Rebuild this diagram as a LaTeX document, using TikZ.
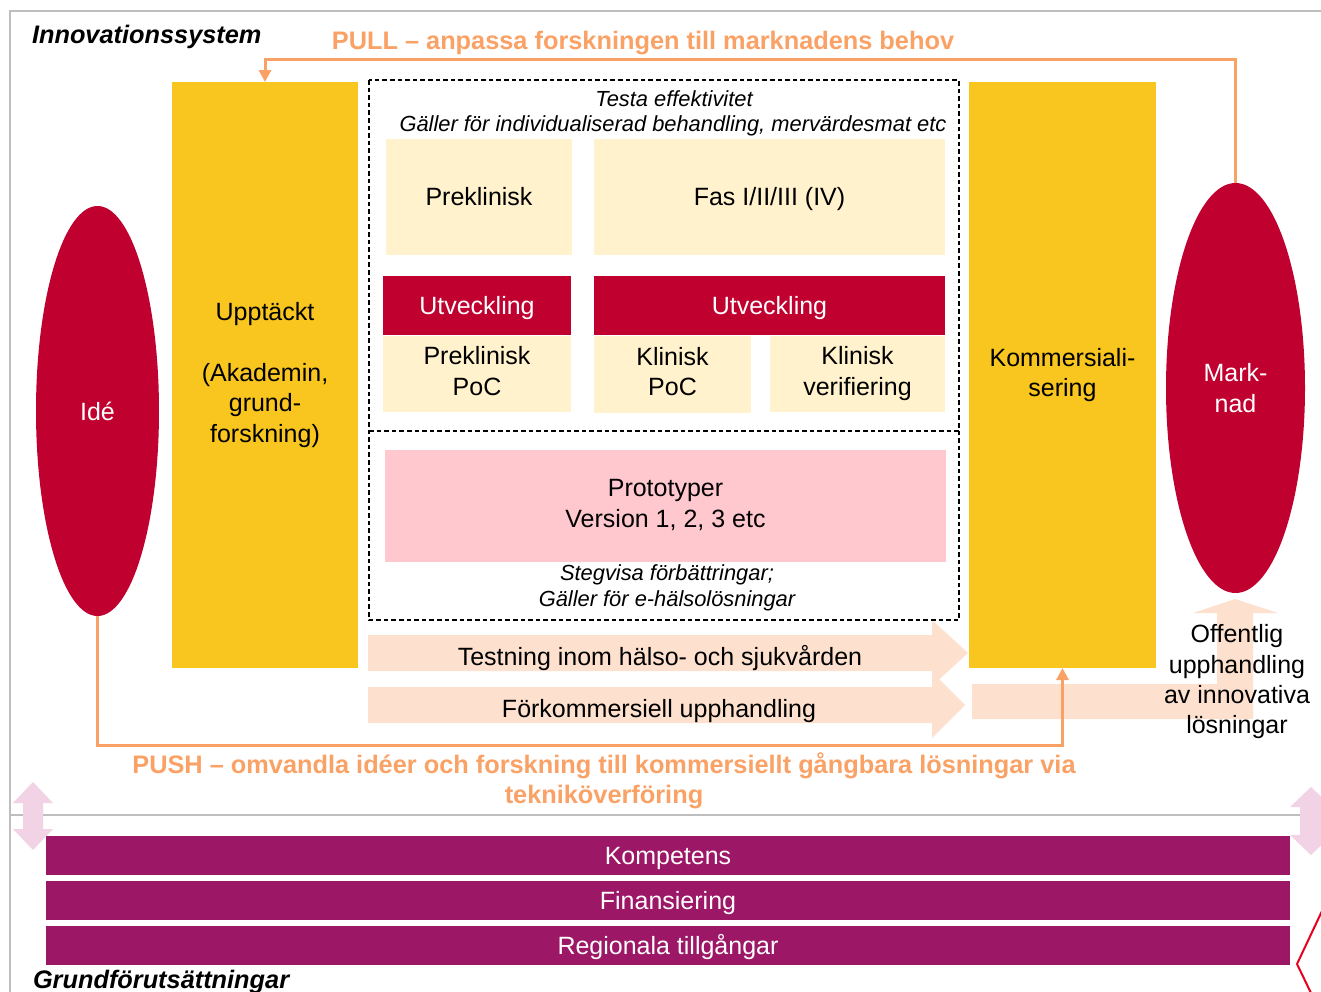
\documentclass[tikz,border=0pt]{standalone}
\usepackage{fontspec}
\setmainfont{Liberation Sans}
\usetikzlibrary{shapes.geometric,arrows.meta}
\definecolor{cyellow}{RGB}{248,198,30}
\definecolor{ccream}{RGB}{255,242,204}
\definecolor{cred}{RGB}{192,0,47}
\definecolor{cpink}{RGB}{255,199,206}
\definecolor{cpurple}{RGB}{156,23,102}
\definecolor{cpeach}{RGB}{253,225,206}
\definecolor{clilac}{RGB}{242,211,229}
\definecolor{corange}{RGB}{250,162,102}
\definecolor{cgray}{RGB}{190,190,190}
\definecolor{czig}{RGB}{232,0,30}
\newcommand\FBig{\fontsize{18.75pt}{22.8pt}\selectfont}
\newcommand\FSmall{\fontsize{16.4pt}{19.5pt}\selectfont\itshape}
\newcommand\FTitle{\fontsize{19pt}{22.5pt}\selectfont\bfseries\itshape}
\newcommand\FOrange{\fontsize{19pt}{22.5pt}\selectfont\bfseries}
\begin{document}
\begin{tikzpicture}[x=0.75pt,y=-0.75pt,
  every node/.style={inner sep=0pt,outer sep=0pt},
  ppt/.style={execute at begin node={\rule{0pt}{17pt}},execute at end node={\rule[-4pt]{0pt}{0pt}}},
  ybox/.style={fill=cyellow,align=center,font=\FBig,ppt},
  cbox/.style={fill=ccream,align=center,font=\FBig,ppt},
  rbox/.style={fill=cred,text=white,align=center,font=\FBig,ppt},
  pbar/.style={fill=cpurple,text=white,font=\FBig,ppt,minimum width=933pt,minimum height=29.25pt},
  oline/.style={draw=corange,line width=2.25pt},
  otip/.style={-{Triangle[width=9pt,length=9pt]}},
  peach/.style={fill=cpeach},
  lilac/.style={fill=clilac},
  frame/.style={draw=cgray,line width=1.5pt},
  dashbox/.style={draw=black,line width=0.8pt,dash pattern=on 3.5pt off 2.2pt},
  plain/.style={font=\FBig,align=center,ppt},
  note/.style={font=\FSmall,align=center}]
\useasboundingbox (0,0) rectangle (1321,992);
\fill[white] (0,0) rectangle (1321,992);

% frame lines
\draw[frame] (10,992) -- (10,11) -- (1321,11);
\draw[frame] (10,815) -- (1300,815);

% titles
\node[font=\FTitle,anchor=base west] (tinno) at (32,43) {Innovationssystem};
\node[font=\FTitle,anchor=base west] (tgrund) at (33,988) {Grundförutsättningar};
\node[font=\FOrange,text=corange,anchor=base] (tpull) at (643,49) {PULL – anpassa forskningen till marknadens behov};
\node[font=\FOrange,text=corange,align=center] (tpush) at (604,780.5) {PUSH – omvandla idéer och forskning till kommersiellt gångbara lösningar via\\tekniköverföring};

% peach arrows
\fill[peach] (368,635) -- (932,635) -- (932,620) -- (968,653) -- (932,686) -- (932,671) -- (368,671) -- cycle;
\fill[peach] (368,687) -- (932,687) -- (932,672) -- (965,705) -- (932,738) -- (932,723) -- (368,723) -- cycle;
\fill[peach] (972,684) -- (1217,684) -- (1217,613) -- (1193,613) -- (1235,599) -- (1278,613) -- (1253,613) -- (1253,719) -- (972,719) -- cycle;
\node[plain] (ttest) at (660,657) {Testning inom hälso- och sjukvården};
\node[plain] (tfork) at (659,709) {Förkommersiell upphandling};

% main boxes
\node[ybox,minimum width=139.5pt,minimum height=439.5pt] (upp) at (265,375) {Upptäckt\\[22.8pt](Akademin,\\grund-\\forskning)};
\node[ybox,minimum width=140.25pt,minimum height=439.5pt] (komm) at (1062.5,375) {Kommersiali-\\sering};
\node[ellipse,fill=cred,text=white,font=\FBig,minimum width=92.25pt,minimum height=307.5pt] (ide) at (97.5,411) {Idé};
\node[ellipse,fill=cred,text=white,font=\FBig,align=center,minimum width=104.25pt,minimum height=307.5pt] (mark) at (1235.5,388) {Mark-\\nad};

% dashed area
\draw[dashbox] (369,80) rectangle (959,620);
\draw[dashbox] (369,431) -- (959,431);
\node[note] (ttesta) at (674,99) {Testa effektivitet};
\node[note] (tgaller) at (673,126) {Gäller för individualiserad behandling, mervärdesmat etc};

\node[cbox,minimum width=139.5pt,minimum height=87pt] (prek) at (479,197) {Preklinisk};
\node[cbox,minimum width=263.25pt,minimum height=87pt] (fas) at (769.5,197) {Fas I/II/III (IV)};
\node[rbox,minimum width=141pt,minimum height=44.25pt] (utv1) at (477,305.5) {Utveckling};
\node[rbox,minimum width=263.25pt,minimum height=44.25pt] (utv2) at (769.5,305.5) {Utveckling};
\node[cbox,minimum width=141pt,minimum height=57pt] (prekpoc) at (477,373.5) {Preklinisk\\PoC};
\node[cbox,minimum width=117.75pt,minimum height=57.75pt] (klinpoc) at (672.5,374) {Klinisk\\PoC};
\node[cbox,minimum width=131.25pt,minimum height=57pt] (klinver) at (857.5,373.5) {Klinisk\\verifiering};

\node[fill=cpink,align=center,font=\FBig,ppt,minimum width=420.75pt,minimum height=84pt] (proto) at (665.5,506) {Prototyper\\Version 1, 2, 3 etc};
\node[note] (tsteg) at (667,588) {Stegvisa förbättringar;\\Gäller för e-hälsolösningar};

% connectors
\coordinate (pulltop) at (0,59);
\coordinate (pushbot) at (0,745);
\draw[oline,otip] (mark.north) -- (mark.north |- pulltop) -| (upp.north);
\draw[oline,otip] (ide.south) -- (ide.south |- pushbot) -| (komm.south);

% offentlig text
\node[plain] (toff) at (1237,682) {Offentlig\\upphandling\\av innovativa\\lösningar};

% base bars
\node[pbar] (bar1) at (668,855.5) {Kompetens};
\node[pbar] (bar2) at (668,900.5) {Finansiering};
\node[pbar] (bar3) at (668,945.5) {Regionala tillgångar};

% lilac double arrows
\fill[lilac] (33,782) -- (53,803) -- (43,803) -- (43,829) -- (53,829) -- (33,850) -- (13,829) -- (23,829) -- (23,803) -- (13,803) -- cycle;
\fill[lilac] (1311,787) -- (1332,807) -- (1322,807) -- (1322,835) -- (1332,835) -- (1311,855) -- (1290,835) -- (1300,835) -- (1300,807) -- (1290,807) -- cycle;

% red zigzag
\draw[czig,line width=1.5pt] (1322,911) -- (1297,964) -- (1311,993);
\end{tikzpicture}
\end{document}
